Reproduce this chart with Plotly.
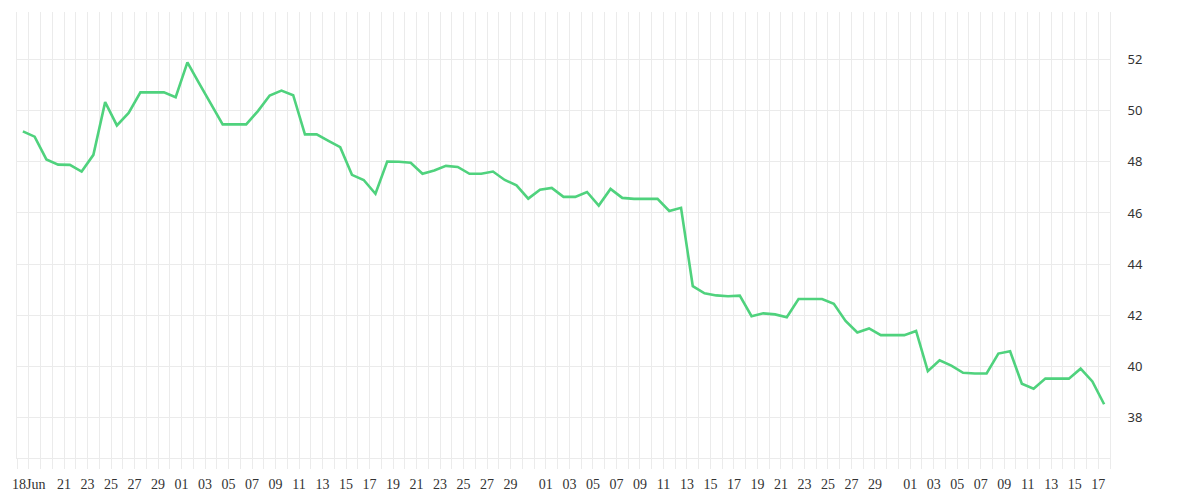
import pandas as pd
import plotly.graph_objects as go

# daily values, 17 Jun .. 17 Sep (one point per day, drawn at midday)
jun_vals = [49.19, 48.98, 48.09, 47.89, 47.88, 47.62, 48.27, 50.33, 49.42, 49.91,
            50.71, 50.71, 50.71, 50.52]
jul_vals = [51.88, 51.06, 50.27, 49.46, 49.46, 49.46, 49.98, 50.59, 50.78, 50.60,
            49.07, 49.07, 48.82, 48.57, 47.49, 47.29, 46.75, 48.01, 48.00, 47.96,
            47.53, 47.66, 47.84, 47.80, 47.53, 47.53, 47.62, 47.29, 47.08, 46.56,
            46.91]
aug_vals = [46.98, 46.63, 46.63, 46.82, 46.29, 46.94, 46.59, 46.55, 46.55, 46.55,
            46.08, 46.20, 43.14, 42.86, 42.78, 42.75, 42.77, 41.97, 42.08, 42.04,
            41.93, 42.64, 42.64, 42.64, 42.45, 41.78, 41.33, 41.49, 41.23, 41.23,
            41.23]
sep_vals = [41.39, 39.82, 40.25, 40.04, 39.76, 39.73, 39.73, 40.51, 40.60, 39.33,
            39.14, 39.53, 39.53, 39.53, 39.92, 39.42, 38.53]

values = jun_vals + jul_vals + aug_vals + sep_vals
dates = pd.date_range("2023-06-17 12:00", periods=len(values), freq="D")

# x tick labels
tick_dates = (["2023-06-18"] + [f"2023-06-{d:02d}" for d in range(21, 30, 2)]
              + [f"2023-07-{d:02d}" for d in range(1, 30, 2)]
              + [f"2023-08-{d:02d}" for d in range(1, 30, 2)]
              + [f"2023-09-{d:02d}" for d in range(1, 18, 2)])
tick_text = (["18Jun"] + [f"{d:02d}" for d in range(21, 30, 2)]
             + [f"{d:02d}" for d in range(1, 30, 2)]
             + [f"{d:02d}" for d in range(1, 30, 2)]
             + [f"{d:02d}" for d in range(1, 18, 2)])
y_ticks = [38, 40, 42, 44, 46, 48, 50, 52]

GRID = "#ebebeb"

fig = go.Figure()
fig.add_trace(go.Scatter(x=dates, y=values, mode="lines",
                         line=dict(color="#4fd27d", width=2.6),
                         showlegend=False, hoverinfo="x+y"))

# page body has an 8px margin, so the figure is a bit smaller than the window
fig.update_layout(
    width=1192, height=492,
    margin=dict(l=7, r=90, t=4, b=42),
    plot_bgcolor="white", paper_bgcolor="white",
    showlegend=False,
)
fig.update_xaxes(
    type="date",
    range=["2023-06-17", "2023-09-18"],
    tickmode="array", tickvals=tick_dates, ticktext=tick_text,
    showgrid=True, gridcolor=GRID, gridwidth=1,
    ticks="outside", ticklen=10, tickcolor=GRID,
    showline=True, linecolor=GRID, linewidth=1,
    ticklabelstandoff=3,
    tickfont=dict(family="Liberation Serif", size=14, color="#333333"),
    minor=dict(dtick=86400000, tick0="2023-06-17", showgrid=True,
               gridcolor=GRID, gridwidth=1,
               ticks="outside", ticklen=10, tickcolor=GRID),
    zeroline=False,
)
fig.update_yaxes(
    side="right",
    range=[36.43, 53.85],
    tickmode="array", tickvals=y_ticks,
    showgrid=True, gridcolor=GRID, gridwidth=1,
    showline=True, linecolor=GRID, linewidth=1, mirror=True,
    ticks="", ticklabelstandoff=14,
    tickfont=dict(family="Noto Sans", size=13, color="#333333"),
    zeroline=False,
)

fig.write_html("out.html")
